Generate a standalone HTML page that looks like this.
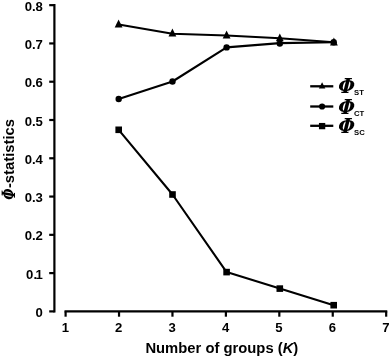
<!DOCTYPE html>
<html><head><meta charset="utf-8"><title>Phi-statistics</title>
<style>
html,body{margin:0;padding:0;background:#fff;}
svg{display:block;}
text{font-family:"Liberation Sans",sans-serif;font-weight:bold;fill:#000;}
.tick{font-size:13.6px;}
.lab{font-size:14.8px;}
.sub{font-size:7.7px;}
.phi3{font-family:"DejaVu Serif Condensed","DejaVu Serif","Liberation Serif",serif;font-style:italic;font-weight:bold;}
.phi2{font-family:"DejaVu Serif","Liberation Serif",serif;font-style:italic;font-weight:bold;}
</style></head><body>
<svg width="390" height="357" viewBox="0 0 390 357">
<rect width="390" height="357" fill="#fff"/>
<g stroke="#000" stroke-width="2.2" fill="none" stroke-linecap="butt">
<path d="M54.4,4.06 V312.50"/>
<path d="M49.2,311.40 H54.4"/>
<path d="M49.2,273.12 H54.4"/>
<path d="M49.2,234.84 H54.4"/>
<path d="M49.2,196.56 H54.4"/>
<path d="M49.2,158.28 H54.4"/>
<path d="M49.2,120.00 H54.4"/>
<path d="M49.2,81.72 H54.4"/>
<path d="M49.2,43.44 H54.4"/>
<path d="M49.2,5.16 H54.4"/>
<path d="M64.50,311.40 H387.28"/>
<path d="M65.60,311.40 V316.70"/>
<path d="M119.03,311.40 V316.70"/>
<path d="M172.46,311.40 V316.70"/>
<path d="M225.89,311.40 V316.70"/>
<path d="M279.32,311.40 V316.70"/>
<path d="M332.75,311.40 V316.70"/>
<path d="M386.18,311.40 V316.70"/>
</g>
<g stroke="#000" stroke-width="2.1" fill="none" stroke-linejoin="round">
<polyline points="118.70,24.50 172.50,33.80 226.60,35.50 279.80,38.30 333.70,42.30"/>
<polyline points="118.70,99.00 172.50,81.50 226.60,47.40 279.80,43.10 333.70,42.30"/>
<polyline points="118.70,129.80 172.50,194.50 226.60,272.10 279.80,288.60 333.70,305.20"/>
<path stroke-width="2.3" d="M310.2,86.3 H333.3"/>
<path stroke-width="2.3" d="M310.2,106.5 H333.3"/>
<path stroke-width="2.3" d="M310.2,125.8 H333.3"/>
</g>
<g fill="#000">
<polygon points="118.60,19.50 122.50,27.40 114.70,27.40"/>
<polygon points="172.40,28.55 176.30,36.45 168.50,36.45"/>
<polygon points="226.60,30.60 230.50,38.50 222.70,38.50"/>
<polygon points="279.80,33.40 283.70,41.30 275.90,41.30"/>
<polygon points="333.90,37.50 337.80,45.40 330.00,45.40"/>
<circle cx="118.70" cy="99.00" r="3.2"/>
<circle cx="172.50" cy="81.50" r="3.2"/>
<circle cx="226.60" cy="47.40" r="3.2"/>
<circle cx="279.80" cy="43.50" r="3.2"/>
<circle cx="333.70" cy="42.30" r="3.2"/>
<rect x="115.40" y="126.50" width="6.6" height="6.6"/>
<rect x="169.20" y="191.20" width="6.6" height="6.6"/>
<rect x="223.30" y="268.80" width="6.6" height="6.6"/>
<rect x="276.50" y="285.30" width="6.6" height="6.6"/>
<rect x="330.40" y="301.90" width="6.6" height="6.6"/>
<polygon points="322.10,82.20 325.35,88.60 318.85,88.60"/>
<circle cx="322.10" cy="106.50" r="3.1"/>
<rect x="318.95" y="122.95" width="6.3" height="6.3"/>
</g>
<text class="tick" transform="translate(42.9,316.90) scale(0.965,1)" text-anchor="end">0</text>
<text class="tick" transform="translate(42.9,278.62) scale(0.965,1)" text-anchor="end">0.<tspan dx="-1.5">1</tspan></text>
<text class="tick" transform="translate(42.9,240.34) scale(0.965,1)" text-anchor="end">0.2</text>
<text class="tick" transform="translate(42.9,202.06) scale(0.965,1)" text-anchor="end">0.3</text>
<text class="tick" transform="translate(42.9,163.78) scale(0.965,1)" text-anchor="end">0.4</text>
<text class="tick" transform="translate(42.9,125.50) scale(0.965,1)" text-anchor="end">0.5</text>
<text class="tick" transform="translate(42.9,87.22) scale(0.965,1)" text-anchor="end">0.6</text>
<text class="tick" transform="translate(42.9,48.94) scale(0.965,1)" text-anchor="end">0.7</text>
<text class="tick" transform="translate(42.9,10.66) scale(0.965,1)" text-anchor="end">0.8</text>
<text class="tick" transform="translate(65.3,332.4) scale(0.965,1)" text-anchor="middle">1</text>
<text class="tick" transform="translate(118.7,332.4) scale(0.965,1)" text-anchor="middle">2</text>
<text class="tick" transform="translate(172.2,332.4) scale(0.965,1)" text-anchor="middle">3</text>
<text class="tick" transform="translate(225.6,332.4) scale(0.965,1)" text-anchor="middle">4</text>
<text class="tick" transform="translate(279.0,332.4) scale(0.965,1)" text-anchor="middle">5</text>
<text class="tick" transform="translate(332.4,332.4) scale(0.965,1)" text-anchor="middle">6</text>
<text class="tick" transform="translate(385.9,332.4) scale(0.965,1)" text-anchor="middle">7</text>
<text class="lab" x="145.4" y="352.9">Number of groups (<tspan font-style="italic">K</tspan>)</text>
<text class="phi3" font-size="18.4px" transform="translate(14.9,200) rotate(-90) scale(0.78,1) skewX(-3)">Φ</text>
<text class="lab" transform="translate(13.6,188.1) rotate(-90)">-statistics</text>
<text class="phi2" font-size="20.5px" transform="translate(337.8,93.4) scale(0.94,1) skewX(-4)">Φ</text><text class="sub" x="354" y="95.4">ST</text>
<text class="phi2" font-size="20.5px" transform="translate(337.8,113.6) scale(0.94,1) skewX(-4)">Φ</text><text class="sub" x="354" y="115.6">CT</text>
<text class="phi2" font-size="20.5px" transform="translate(337.8,132.8) scale(0.94,1) skewX(-4)">Φ</text><text class="sub" x="354" y="134.8">SC</text>
</svg></body></html>
